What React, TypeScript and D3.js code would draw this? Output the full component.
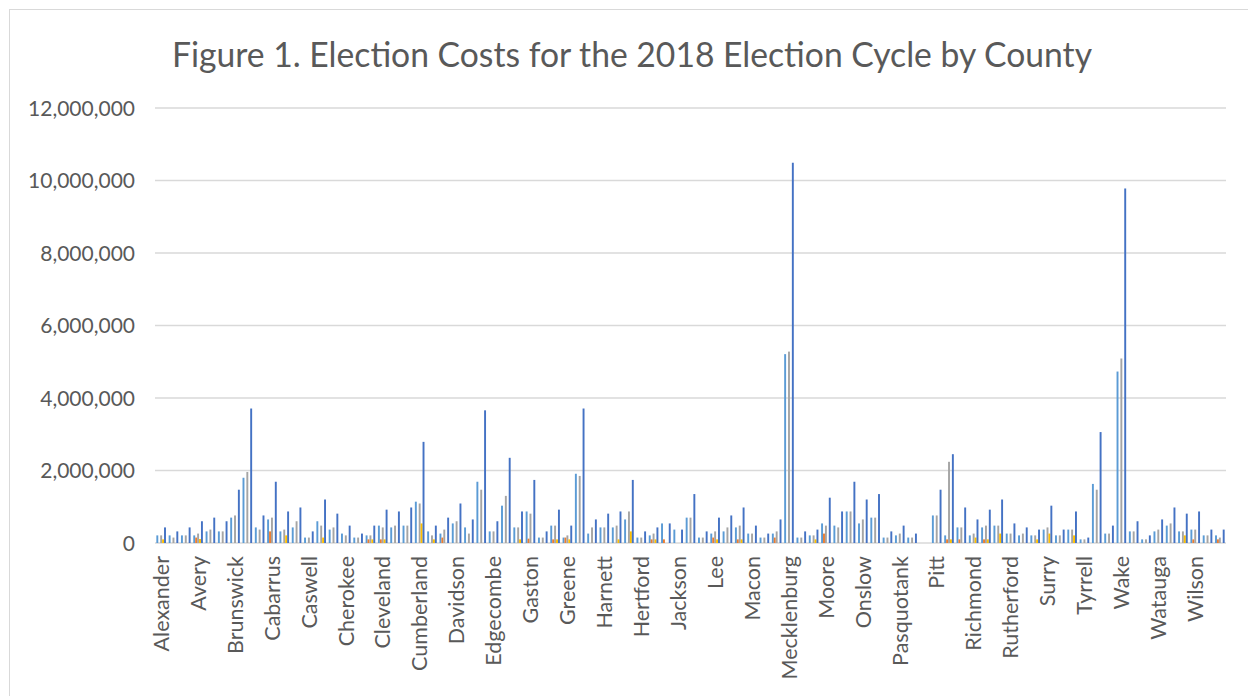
import React from "react";
import * as d3 from "d3";

const counties = [
  "Alexander","Alleghany","Ashe","Avery","Beaufort","Bladen","Brunswick","Buncombe","Burke","Cabarrus",
  "Caldwell","Carteret","Caswell","Catawba","Chatham","Cherokee","Chowan","Clay","Cleveland","Columbus",
  "Craven","Cumberland","Currituck","Dare","Davidson","Davie","Durham","Edgecombe","Forsyth","Franklin",
  "Gaston","Gates","Granville","Greene","Guilford","Halifax","Harnett","Haywood","Henderson","Hertford",
  "Hoke","Iredell","Jackson","Johnston","Jones","Lee","Lenoir","Lincoln","Macon","Madison",
  "McDowell","Mecklenburg","Mitchell","Montgomery","Moore","Nash","New Hanover","Onslow","Orange","Pamlico",
  "Pasquotank","Pender","Person","Pitt","Polk","Randolph","Richmond","Robeson","Rowan","Rutherford",
  "Sampson","Stanly","Surry","Swain","Transylvania","Tyrrell","Union","Vance","Wake","Warren",
  "Washington","Watauga","Wayne","Wilkes","Wilson","Yadkin","Yancey"
];

// values in millions of dollars
const primary = [
  0.21,0.21,0.21,0.21,0.32,0.32,0.70,1.80,0.43,0.65,
  0.32,0.43,0.15,0.60,0.37,0.26,0.15,0.21,0.48,0.43,
  0.48,1.14,0.32,0.26,0.54,0.43,1.69,0.32,1.03,0.43,
  0.87,0.15,0.48,0.15,1.91,0.26,0.43,0.43,0.65,0.15,
  0.21,0.54,0.37,0.70,0.15,0.26,0.32,0.43,0.26,0.15,
  0.26,5.21,0.15,0.21,0.54,0.48,0.87,0.54,0.70,0.15,
  0.21,0.15,0,0.76,0.21,0.43,0.21,0.43,0.48,0.26,
  0.21,0.21,0.37,0.21,0.37,0.10,1.63,0.26,4.73,0.32,
  0.10,0.32,0.48,0.32,0.37,0.21,0.21
];
const secondPrimary = [
  0,0,0,0.15,0,0,0,0,0,0.32,
  0,0,0,0,0,0,0,0.10,0.10,0,
  0,0,0,0.15,0,0,0,0,0,0,
  0.12,0,0.10,0.15,0,0,0,0,0,0,
  0.10,0.10,0,0,0,0.15,0,0.10,0,0,
  0.15,0,0,0,0.26,0,0,0,0,0,
  0,0,0,0,0.10,0.10,0,0.10,0,0,
  0,0,0,0,0,0,0,0,0,0,
  0,0,0,0,0.10,0,0.10
];
const general = [
  0.21,0.15,0.21,0.26,0.37,0.32,0.76,1.96,0.37,0.70,
  0.37,0.60,0.15,0.48,0.43,0.21,0.15,0.21,0.43,0.48,
  0.48,1.09,0.21,0.37,0.60,0.26,1.47,0.32,1.30,0.43,
  0.81,0.15,0.48,0.21,1.85,0.43,0.43,0.48,0.87,0.15,
  0.26,0,0,0.70,0.15,0.32,0.43,0.48,0.26,0.15,
  0.32,5.28,0.15,0.21,0.48,0.43,0.87,0.65,0.70,0.15,
  0.26,0.15,0,0.76,2.24,0.43,0.26,0.48,0.48,0.26,
  0.26,0.21,0.43,0.21,0.37,0.10,1.47,0.26,5.09,0.32,
  0.10,0.37,0.54,0.32,0.37,0.21,0.15
];
const other = [
  0.10,0,0,0.11,0,0,0,0,0,0,
  0.21,0,0,0.15,0,0,0,0.10,0.10,0,
  0,0.54,0.10,0,0,0,0,0,0,0.10,
  0,0,0.10,0.10,0,0,0,0.10,0.32,0,
  0.10,0,0,0,0,0.10,0,0.10,0,0,
  0,0,0,0.10,0,0,0,0,0,0,
  0,0,0,0,0.10,0,0.15,0.10,0.26,0,
  0,0.10,0.26,0,0.21,0,0,0,0,0,
  0,0,0,0.21,0,0,0
];
const total = [
  0.43,0.32,0.43,0.60,0.70,0.60,1.47,3.71,0.76,1.69,
  0.87,0.98,0.32,1.20,0.81,0.48,0.26,0.48,0.92,0.87,
  0.98,2.79,0.48,0.70,1.09,0.65,3.66,0.60,2.35,0.87,
  1.74,0.32,0.92,0.48,3.71,0.65,0.81,0.87,1.74,0.32,
  0.43,0.54,0.37,1.35,0.32,0.70,0.76,0.98,0.48,0.26,
  0.65,10.49,0.32,0.37,1.25,0.87,1.69,1.20,1.35,0.32,
  0.48,0.26,0,1.47,2.45,0.98,0.65,0.92,1.20,0.54,
  0.43,0.37,1.03,0.37,0.87,0.15,3.06,0.48,9.78,0.60,
  0.21,0.65,0.98,0.81,0.87,0.37,0.37
];

const seriesNames = ["Primary", "Second Primary", "General", "Other", "Total"];
const seriesValues = [primary, secondPrimary, general, other, total];
const seriesColors = ["#5B9BD5", "#ED7D31", "#A5A5A5", "#FFC000", "#4472C4"];
const yTicks = [0, 2000000, 4000000, 6000000, 8000000, 10000000, 12000000];
const titleText = "Figure 1. Election Costs for the 2018 Election Cycle by County";

const W = 1248;
const H = 696;
const plot = { left: 155, right: 1226, top: 108, bottom: 543 };
const GAP = 1.4;

export default function App() {
  const x0 = d3
    .scaleBand<string>()
    .domain(counties)
    .range([plot.left, plot.right])
    .paddingInner(GAP / (5 + GAP))
    .paddingOuter(GAP / (5 + GAP) / 2);
  const x1 = d3
    .scaleBand<string>()
    .domain(seriesNames)
    .range([0, x0.bandwidth()]);
  const y = d3.scaleLinear().domain([0, 12000000]).range([plot.bottom, plot.top]);
  const fmt = d3.format(",");
  const font = "Lato, 'Open Sans', sans-serif";
  const textColor = "#595959";

  return (
    <svg
      width={W}
      height={H}
      style={{ position: "absolute", left: 0, top: 0, background: "#fff" }}
    >
      <rect x={0} y={0} width={W} height={H} fill="#fff" />
      <rect x={9.5} y={9.5} width={W + 20} height={H + 20} fill="#fff" stroke="#D9D9D9" strokeWidth={1} />
      <text
        x={632}
        y={67}
        textAnchor="middle"
        fontFamily={font}
        fontSize={34}
        fill={textColor}
        textLength={920}
        lengthAdjust="spacingAndGlyphs"
      >
        {titleText}
      </text>
      {yTicks.map((t) => (
        <g key={t}>
          <line
            x1={plot.left}
            x2={plot.right}
            y1={y(t)}
            y2={y(t)}
            stroke="#D9D9D9"
            strokeWidth={1.5}
          />
          <text
            x={135}
            y={y(t)}
            dy="0.36em"
            textAnchor="end"
            fontFamily={font}
            fontSize={21}
            fill={textColor}
          >
            {fmt(t)}
          </text>
        </g>
      ))}
      {counties.map((c, i) => (
        <g key={c} transform={`translate(${x0(c)},0)`}>
          {seriesNames.map((s, j) => {
            const v = seriesValues[j][i] * 1e6;
            if (!v) return null;
            return (
              <rect
                key={s}
                x={x1(s)}
                y={y(v)}
                width={x1.bandwidth()}
                height={y(0) - y(v)}
                fill={seriesColors[j]}
              />
            );
          })}
        </g>
      ))}
      {counties.map((c, i) =>
        i % 3 === 0 ? (
          <text
            key={"l" + c}
            transform={`translate(${(x0(c) as number) + x0.bandwidth() / 2},556) rotate(-90)`}
            dy="0.36em"
            textAnchor="end"
            fontFamily={font}
            fontSize={21.5}
            fill={textColor}
          >
            {c}
          </text>
        ) : null
      )}
    </svg>
  );
}
